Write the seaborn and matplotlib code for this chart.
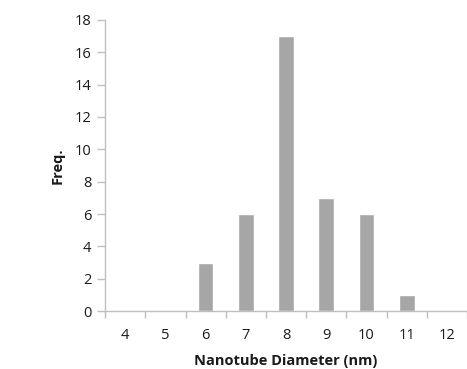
import pandas as pd
import matplotlib
matplotlib.use("Agg")
import matplotlib.pyplot as plt
import seaborn as sns

# Data
diameters = ["4", "5", "6", "7", "8", "9", "10", "11", "12"]
freq = [0, 0, 3, 6, 17, 7, 6, 1, 0]

df = pd.DataFrame({"Diameter": diameters, "Freq": freq})

sns.set_style("white")
plt.rcParams["font.family"] = ["Open Sans", "DejaVu Sans"]

fig = plt.figure(figsize=(4.67, 3.69), dpi=100)
ax = fig.add_axes([0.225, 0.157, 0.775, 0.789])

sns.barplot(data=df, x="Diameter", y="Freq", order=diameters,
            color="#A6A6A6", saturation=1, width=0.39, ax=ax)

ax.set_xlim(-0.5, len(diameters) - 0.5)
ax.set_ylim(0, 18)
ax.set_yticks(range(0, 19, 2))

axis_color = "#BFBFBF"
text_color = "#1a1a1a"
for side in ["top", "right"]:
    ax.spines[side].set_visible(False)
for side in ["left", "bottom"]:
    ax.spines[side].set_color(axis_color)
    ax.spines[side].set_linewidth(1.0)

# ticks between categories, Excel style
ax.set_xticks([i - 0.5 for i in range(len(diameters) + 1)], minor=True)
ax.tick_params(axis="x", which="major", length=0, pad=12,
               labelsize=10.5, labelcolor=text_color)
ax.tick_params(axis="x", which="minor", length=5, width=1,
               color=axis_color, direction="out", bottom=True)
ax.tick_params(axis="y", length=6, width=1, color=axis_color,
               direction="out", left=True, pad=4,
               labelsize=10.5, labelcolor=text_color)

ax.set_xlabel("Nanotube Diameter (nm)", fontsize=10.5, fontweight="bold",
              color=text_color, labelpad=8)
ax.set_ylabel("Freq.", fontsize=10.5, fontweight="bold", color=text_color,
              labelpad=7)

fig.savefig("out.png", dpi=100)
